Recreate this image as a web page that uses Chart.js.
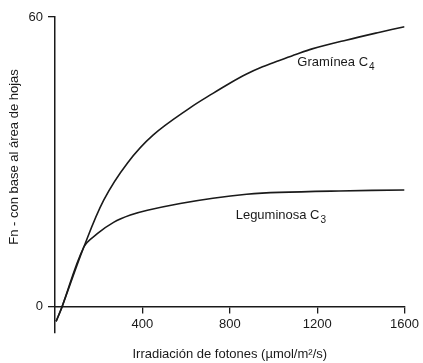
<!DOCTYPE html>
<html><head><meta charset="utf-8">
<script src="https://cdn.jsdelivr.net/npm/chart.js@4"></script>
<style>html,body{margin:0;padding:0;background:#fff;}#wrap{width:423px;height:363px;position:relative;}</style>
</head><body><div id="wrap"><canvas id="c"></canvas></div>
<script>
// Data
const c4X = [5, 32, 132, 223, 332, 450, 618, 723, 800, 877, 950, 1027, 1105, 1177, 1332, 1482, 1600];
const c4Y = [-3, 0, 12.4, 22.1, 29.8, 35.6, 41.2, 44.2, 46.3, 48.2, 49.7, 51.0, 52.3, 53.4, 55.2, 56.8, 58.0];
const c3X = [5, 32, 132, 195, 268, 345, 423, 573, 723, 877, 1027, 1300, 1600];
const c3Y = [-3, 0, 12.4, 15.2, 17.5, 19.0, 20.0, 21.4, 22.5, 23.3, 23.7, 24.0, 24.2];
const xTicks = [400, 800, 1200, 1600];
const yTicks = [0, 60];
const seriesNames = ['Gramínea C', 'Leguminosa C'];
const seriesSubs = ['4', '3'];
const xTitle = 'Irradiación de fotones (µmol/m²/s)';
const yTitle = 'Fn - con base al área de hojas';

const FONT = '"Liberation Sans", Arial, Helvetica, sans-serif';
const INK = '#1a1a1a';

const toPts = (xs, ys) => xs.map((x, i) => ({x: x, y: ys[i]}));

const textPlugin = {
  id: 'texts',
  afterDraw(chart) {
    const ctx = chart.ctx, xs = chart.scales.x, ys = chart.scales.y, ca = chart.chartArea;
    ctx.save();
    ctx.fillStyle = INK;
    // Axis titles
    ctx.font = '13px ' + FONT;
    ctx.textAlign = 'center';
    ctx.textBaseline = 'middle';
    ctx.fillText(xTitle, (ca.left + ca.right) / 2, 354);
    ctx.save();
    ctx.translate(14, 157);
    ctx.rotate(-Math.PI / 2);
    ctx.fillText(yTitle, 0, 0);
    ctx.restore();
    // Curve labels
    const labelPos = [[1109, 50.7], [827, 19.0]];
    labelPos.forEach((p, i) => {
      const px = xs.getPixelForValue(p[0]), py = ys.getPixelForValue(p[1]);
      ctx.font = '13px ' + FONT;
      ctx.textAlign = 'left';
      ctx.textBaseline = 'middle';
      ctx.fillText(seriesNames[i], px, py);
      const w = ctx.measureText(seriesNames[i]).width;
      ctx.font = '10px ' + FONT;
      ctx.fillText(seriesSubs[i], px + w + 1, py + 5);
    });
    ctx.restore();
  }
};

new Chart(document.getElementById('c'), {
  type: 'line',
  data: {
    datasets: [
      {data: toPts(c4X, c4Y), borderColor: INK, borderWidth: 1.6, pointRadius: 0, fill: false, tension: 0.35},
      {data: toPts(c3X, c3Y), borderColor: INK, borderWidth: 1.6, pointRadius: 0, fill: false, tension: 0.35}
    ]
  },
  options: {
    responsive: true,
    maintainAspectRatio: false,
    animation: false,
    devicePixelRatio: 1,
    layout: {padding: {top: 17, right: 17, bottom: 30, left: 0}},
    plugins: {legend: {display: false}, tooltip: {enabled: false}},
    scales: {
      x: {
        type: 'linear', min: 0, max: 1600,
        position: {y: 0},
        afterBuildTicks: s => { s.ticks = xTicks.map(v => ({value: v})); },
        afterFit: s => { s.height = 0; },
        grid: {drawOnChartArea: false, drawTicks: true, tickLength: 6, color: INK, lineWidth: 1.3},
        border: {display: true, color: INK, width: 1.5},
        ticks: {font: {size: 13, family: FONT}, color: INK, padding: 4, maxRotation: 0, autoSkip: false, callback: v => String(v)}
      },
      y: {
        type: 'linear', min: -5.4, max: 60,
        afterBuildTicks: s => { s.ticks = yTicks.map(v => ({value: v})); },
        afterFit: s => { s.width = 55; },
        grid: {drawOnChartArea: false, drawTicks: true, tickLength: 7, color: INK, lineWidth: 1.3},
        border: {display: true, color: INK, width: 1.5},
        ticks: {font: {size: 13, family: FONT}, color: INK, padding: 5, callback: v => String(v)}
      }
    }
  },
  plugins: [textPlugin]
});
</script>
</body></html>
